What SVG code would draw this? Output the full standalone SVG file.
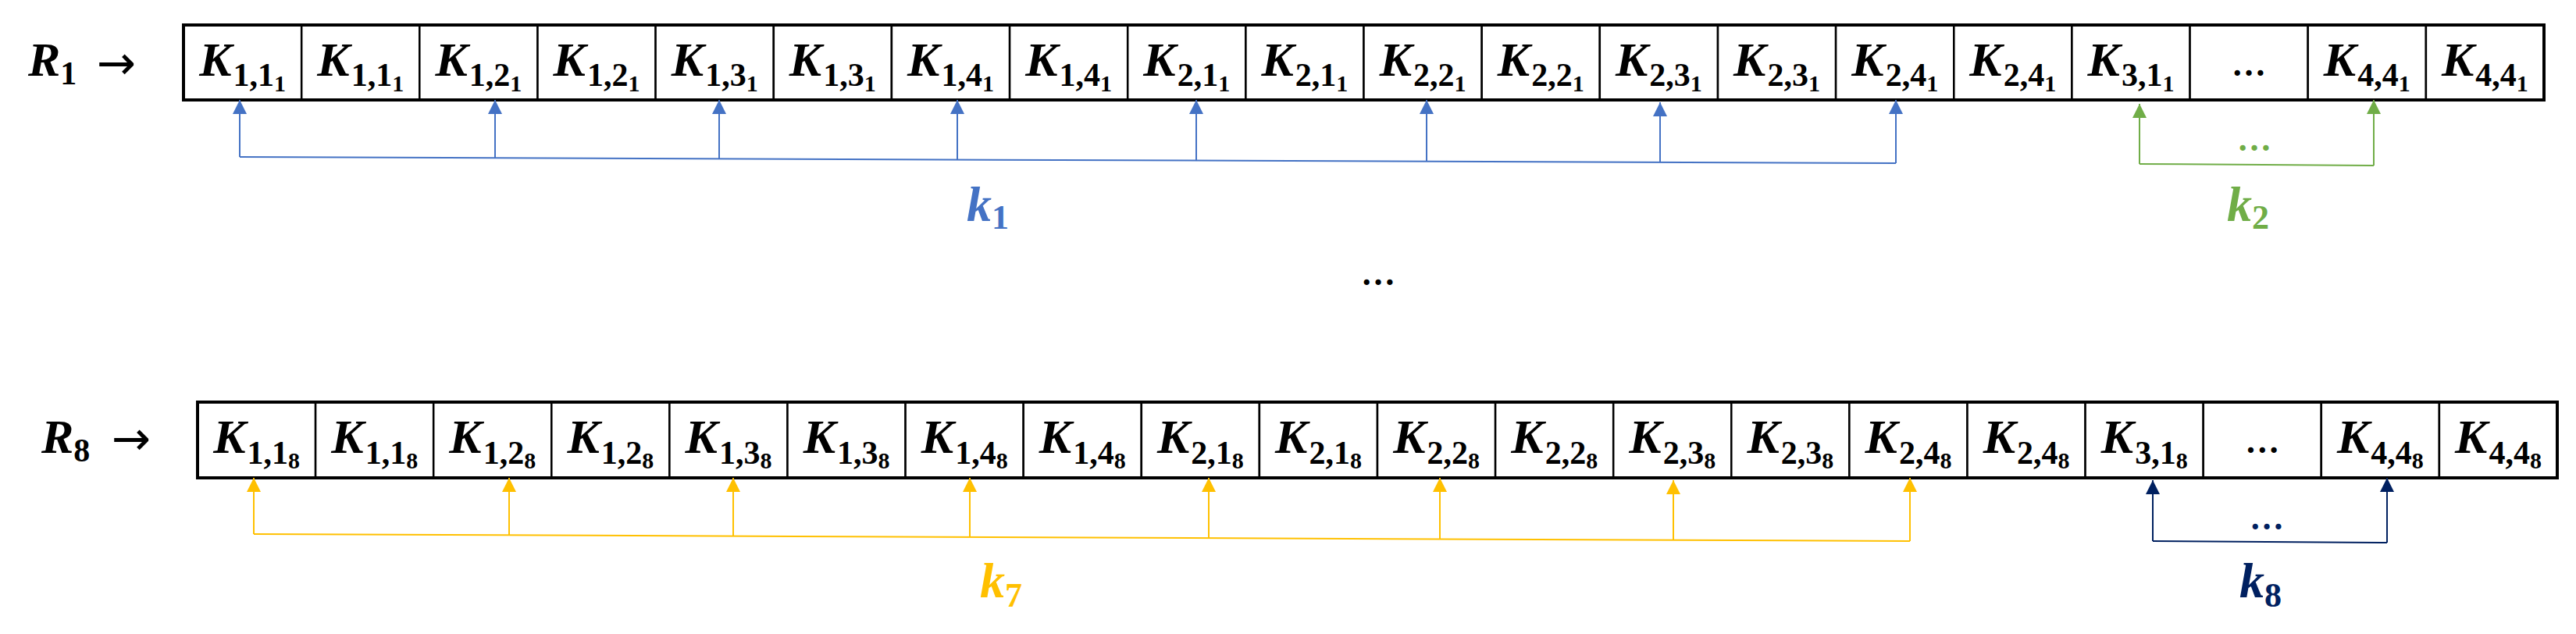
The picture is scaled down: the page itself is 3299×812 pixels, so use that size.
<svg xmlns="http://www.w3.org/2000/svg" width="3299" height="812" viewBox="0 0 3299 812">
<style>
.cell{fill:#fff;stroke:#000;stroke-width:2.5}
.frame{fill:none;stroke:#000;stroke-width:4}
.lbl{font-family:"Liberation Serif","DejaVu Serif",serif;font-weight:bold;font-style:italic;font-size:62px;text-anchor:middle;fill:#000}
.s{font-size:42px;font-style:normal}
.ss{font-size:30px;font-style:normal}
.dots{font-family:"Liberation Serif","DejaVu Serif",serif;font-weight:bold;font-size:44px;text-anchor:middle}
.row{font-family:"Liberation Serif","DejaVu Serif",serif;font-weight:bold;font-style:italic;font-size:62px;fill:#000}
.arr{font-family:"DejaVu Sans",sans-serif;font-size:60px;fill:#000}
.klbl{font-family:"Liberation Serif","DejaVu Serif",serif;font-weight:bold;font-style:italic;font-size:64px}
.ks{font-size:44px;font-style:normal}
.blue{stroke:#4472C4}
.green{stroke:#70AD47}
.yellow{stroke:#FFC000}
.navy{stroke:#002060}
.conn path{fill:none;stroke-width:2}
</style>
<defs>
<marker id="aBlue" markerUnits="userSpaceOnUse" markerWidth="18" markerHeight="18" refX="18" refY="9" orient="auto"><path d="M0,0 L18,9 L0,18 Z" fill="#4472C4"/></marker>
<marker id="aGreen" markerUnits="userSpaceOnUse" markerWidth="18" markerHeight="18" refX="18" refY="9" orient="auto"><path d="M0,0 L18,9 L0,18 Z" fill="#70AD47"/></marker>
<marker id="aYellow" markerUnits="userSpaceOnUse" markerWidth="18" markerHeight="18" refX="18" refY="9" orient="auto"><path d="M0,0 L18,9 L0,18 Z" fill="#FFC000"/></marker>
<marker id="aNavy" markerUnits="userSpaceOnUse" markerWidth="18" markerHeight="18" refX="18" refY="9" orient="auto"><path d="M0,0 L18,9 L0,18 Z" fill="#002060"/></marker>
</defs>
<rect width="3299" height="812" fill="#fff"/>

<g id="label-R1"><text class="row" x="36" y="97">R<tspan class="s" dy="11">1</tspan></text><text class="arr" x="124" y="101">→</text></g>
<g id="label-R8"><text class="row" x="53" y="580">R<tspan class="s" dy="11">8</tspan></text><text class="arr" x="143" y="582">→</text></g>

<g id="row1">
<g id="r1c0"><rect class="cell" x="235" y="32" width="151.2" height="96"/><text class="lbl" x="310.6" y="97">K<tspan class="s" dx="2" dy="13">1,1</tspan><tspan class="ss" dy="7">1</tspan></text></g>
<g id="r1c1"><rect class="cell" x="386.2" y="32" width="151.1" height="96"/><text class="lbl" x="461.7" y="97">K<tspan class="s" dx="2" dy="13">1,1</tspan><tspan class="ss" dy="7">1</tspan></text></g>
<g id="r1c2"><rect class="cell" x="537.3" y="32" width="151.2" height="96"/><text class="lbl" x="612.9" y="97">K<tspan class="s" dx="2" dy="13">1,2</tspan><tspan class="ss" dy="7">1</tspan></text></g>
<g id="r1c3"><rect class="cell" x="688.5" y="32" width="151.1" height="96"/><text class="lbl" x="764.0" y="97">K<tspan class="s" dx="2" dy="13">1,2</tspan><tspan class="ss" dy="7">1</tspan></text></g>
<g id="r1c4"><rect class="cell" x="839.6" y="32" width="151.2" height="96"/><text class="lbl" x="915.2" y="97">K<tspan class="s" dx="2" dy="13">1,3</tspan><tspan class="ss" dy="7">1</tspan></text></g>
<g id="r1c5"><rect class="cell" x="990.8" y="32" width="151.1" height="96"/><text class="lbl" x="1066.3" y="97">K<tspan class="s" dx="2" dy="13">1,3</tspan><tspan class="ss" dy="7">1</tspan></text></g>
<g id="r1c6"><rect class="cell" x="1141.9" y="32" width="151.2" height="96"/><text class="lbl" x="1217.5" y="97">K<tspan class="s" dx="2" dy="13">1,4</tspan><tspan class="ss" dy="7">1</tspan></text></g>
<g id="r1c7"><rect class="cell" x="1293.1" y="32" width="151.1" height="96"/><text class="lbl" x="1368.6" y="97">K<tspan class="s" dx="2" dy="13">1,4</tspan><tspan class="ss" dy="7">1</tspan></text></g>
<g id="r1c8"><rect class="cell" x="1444.2" y="32" width="151.2" height="96"/><text class="lbl" x="1519.8" y="97">K<tspan class="s" dx="2" dy="13">2,1</tspan><tspan class="ss" dy="7">1</tspan></text></g>
<g id="r1c9"><rect class="cell" x="1595.4" y="32" width="151.1" height="96"/><text class="lbl" x="1670.9" y="97">K<tspan class="s" dx="2" dy="13">2,1</tspan><tspan class="ss" dy="7">1</tspan></text></g>
<g id="r1c10"><rect class="cell" x="1746.5" y="32" width="151.2" height="96"/><text class="lbl" x="1822.1" y="97">K<tspan class="s" dx="2" dy="13">2,2</tspan><tspan class="ss" dy="7">1</tspan></text></g>
<g id="r1c11"><rect class="cell" x="1897.7" y="32" width="151.1" height="96"/><text class="lbl" x="1973.2" y="97">K<tspan class="s" dx="2" dy="13">2,2</tspan><tspan class="ss" dy="7">1</tspan></text></g>
<g id="r1c12"><rect class="cell" x="2048.8" y="32" width="151.2" height="96"/><text class="lbl" x="2124.4" y="97">K<tspan class="s" dx="2" dy="13">2,3</tspan><tspan class="ss" dy="7">1</tspan></text></g>
<g id="r1c13"><rect class="cell" x="2200.0" y="32" width="151.1" height="96"/><text class="lbl" x="2275.5" y="97">K<tspan class="s" dx="2" dy="13">2,3</tspan><tspan class="ss" dy="7">1</tspan></text></g>
<g id="r1c14"><rect class="cell" x="2351.1" y="32" width="151.2" height="96"/><text class="lbl" x="2426.7" y="97">K<tspan class="s" dx="2" dy="13">2,4</tspan><tspan class="ss" dy="7">1</tspan></text></g>
<g id="r1c15"><rect class="cell" x="2502.3" y="32" width="151.1" height="96"/><text class="lbl" x="2577.8" y="97">K<tspan class="s" dx="2" dy="13">2,4</tspan><tspan class="ss" dy="7">1</tspan></text></g>
<g id="r1c16"><rect class="cell" x="2653.4" y="32" width="151.2" height="96"/><text class="lbl" x="2729.0" y="97">K<tspan class="s" dx="2" dy="13">3,1</tspan><tspan class="ss" dy="7">1</tspan></text></g>
<g id="r1c17"><rect class="cell" x="2804.6" y="32" width="151.1" height="96"/><text class="dots" x="2880.1" y="97">…</text></g>
<g id="r1c18"><rect class="cell" x="2955.7" y="32" width="151.2" height="96"/><text class="lbl" x="3031.3" y="97">K<tspan class="s" dx="2" dy="13">4,4</tspan><tspan class="ss" dy="7">1</tspan></text></g>
<g id="r1c19"><rect class="cell" x="3106.9" y="32" width="151.1" height="96"/><text class="lbl" x="3182.4" y="97">K<tspan class="s" dx="2" dy="13">4,4</tspan><tspan class="ss" dy="7">1</tspan></text></g>
<rect class="frame" x="235" y="32" width="3023" height="96"/>
</g>

<g id="row8">
<g id="r8c0"><rect class="cell" x="253" y="515" width="151.1" height="97"/><text class="lbl" x="328.6" y="580">K<tspan class="s" dx="2" dy="14">1,1</tspan><tspan class="ss" dy="6">8</tspan></text></g>
<g id="r8c1"><rect class="cell" x="404.1" y="515" width="151.1" height="97"/><text class="lbl" x="479.7" y="580">K<tspan class="s" dx="2" dy="14">1,1</tspan><tspan class="ss" dy="6">8</tspan></text></g>
<g id="r8c2"><rect class="cell" x="555.2" y="515" width="151.1" height="97"/><text class="lbl" x="630.8" y="580">K<tspan class="s" dx="2" dy="14">1,2</tspan><tspan class="ss" dy="6">8</tspan></text></g>
<g id="r8c3"><rect class="cell" x="706.3" y="515" width="151.1" height="97"/><text class="lbl" x="781.9" y="580">K<tspan class="s" dx="2" dy="14">1,2</tspan><tspan class="ss" dy="6">8</tspan></text></g>
<g id="r8c4"><rect class="cell" x="857.4" y="515" width="151.1" height="97"/><text class="lbl" x="933.0" y="580">K<tspan class="s" dx="2" dy="14">1,3</tspan><tspan class="ss" dy="6">8</tspan></text></g>
<g id="r8c5"><rect class="cell" x="1008.5" y="515" width="151.1" height="97"/><text class="lbl" x="1084.1" y="580">K<tspan class="s" dx="2" dy="14">1,3</tspan><tspan class="ss" dy="6">8</tspan></text></g>
<g id="r8c6"><rect class="cell" x="1159.6" y="515" width="151.1" height="97"/><text class="lbl" x="1235.2" y="580">K<tspan class="s" dx="2" dy="14">1,4</tspan><tspan class="ss" dy="6">8</tspan></text></g>
<g id="r8c7"><rect class="cell" x="1310.7" y="515" width="151.1" height="97"/><text class="lbl" x="1386.3" y="580">K<tspan class="s" dx="2" dy="14">1,4</tspan><tspan class="ss" dy="6">8</tspan></text></g>
<g id="r8c8"><rect class="cell" x="1461.8" y="515" width="151.1" height="97"/><text class="lbl" x="1537.4" y="580">K<tspan class="s" dx="2" dy="14">2,1</tspan><tspan class="ss" dy="6">8</tspan></text></g>
<g id="r8c9"><rect class="cell" x="1612.9" y="515" width="151.1" height="97"/><text class="lbl" x="1688.5" y="580">K<tspan class="s" dx="2" dy="14">2,1</tspan><tspan class="ss" dy="6">8</tspan></text></g>
<g id="r8c10"><rect class="cell" x="1764.0" y="515" width="151.1" height="97"/><text class="lbl" x="1839.6" y="580">K<tspan class="s" dx="2" dy="14">2,2</tspan><tspan class="ss" dy="6">8</tspan></text></g>
<g id="r8c11"><rect class="cell" x="1915.1" y="515" width="151.1" height="97"/><text class="lbl" x="1990.7" y="580">K<tspan class="s" dx="2" dy="14">2,2</tspan><tspan class="ss" dy="6">8</tspan></text></g>
<g id="r8c12"><rect class="cell" x="2066.2" y="515" width="151.1" height="97"/><text class="lbl" x="2141.8" y="580">K<tspan class="s" dx="2" dy="14">2,3</tspan><tspan class="ss" dy="6">8</tspan></text></g>
<g id="r8c13"><rect class="cell" x="2217.3" y="515" width="151.1" height="97"/><text class="lbl" x="2292.9" y="580">K<tspan class="s" dx="2" dy="14">2,3</tspan><tspan class="ss" dy="6">8</tspan></text></g>
<g id="r8c14"><rect class="cell" x="2368.4" y="515" width="151.1" height="97"/><text class="lbl" x="2444.0" y="580">K<tspan class="s" dx="2" dy="14">2,4</tspan><tspan class="ss" dy="6">8</tspan></text></g>
<g id="r8c15"><rect class="cell" x="2519.5" y="515" width="151.1" height="97"/><text class="lbl" x="2595.1" y="580">K<tspan class="s" dx="2" dy="14">2,4</tspan><tspan class="ss" dy="6">8</tspan></text></g>
<g id="r8c16"><rect class="cell" x="2670.6" y="515" width="151.1" height="97"/><text class="lbl" x="2746.2" y="580">K<tspan class="s" dx="2" dy="14">3,1</tspan><tspan class="ss" dy="6">8</tspan></text></g>
<g id="r8c17"><rect class="cell" x="2821.7" y="515" width="151.1" height="97"/><text class="dots" x="2897.3" y="580">…</text></g>
<g id="r8c18"><rect class="cell" x="2972.8" y="515" width="151.1" height="97"/><text class="lbl" x="3048.4" y="580">K<tspan class="s" dx="2" dy="14">4,4</tspan><tspan class="ss" dy="6">8</tspan></text></g>
<g id="r8c19"><rect class="cell" x="3123.9" y="515" width="151.1" height="97"/><text class="lbl" x="3199.5" y="580">K<tspan class="s" dx="2" dy="14">4,4</tspan><tspan class="ss" dy="6">8</tspan></text></g>
<rect class="frame" x="253" y="515" width="3022" height="97"/>
</g>

<g id="connectors" class="conn">
<g id="k1-conn">
<path class="blue" d="M307,201 L2428,209"/>
<path class="blue" d="M307,201 L307,128" marker-end="url(#aBlue)"/>
<path class="blue" d="M634,202.2 L634,128" marker-end="url(#aBlue)"/>
<path class="blue" d="M921,203.3 L921,128" marker-end="url(#aBlue)"/>
<path class="blue" d="M1226,204.5 L1226,128" marker-end="url(#aBlue)"/>
<path class="blue" d="M1532,205.6 L1532,128" marker-end="url(#aBlue)"/>
<path class="blue" d="M1827,206.7 L1827,128" marker-end="url(#aBlue)"/>
<path class="blue" d="M2126,207.9 L2126,131" marker-end="url(#aBlue)"/>
<path class="blue" d="M2428,209 L2428,128" marker-end="url(#aBlue)"/>
</g>
<g id="k2-conn">
<path class="green" d="M2740,210 L3040,212"/>
<path class="green" d="M2740,210 L2740,133" marker-end="url(#aGreen)"/>
<path class="green" d="M3040,212 L3040,128" marker-end="url(#aGreen)"/>
</g>
<g id="k7-conn">
<path class="yellow" d="M325,684 L2446,693"/>
<path class="yellow" d="M325,684 L325,612" marker-end="url(#aYellow)"/>
<path class="yellow" d="M652,685.4 L652,612" marker-end="url(#aYellow)"/>
<path class="yellow" d="M939,686.6 L939,612" marker-end="url(#aYellow)"/>
<path class="yellow" d="M1242,687.9 L1242,612" marker-end="url(#aYellow)"/>
<path class="yellow" d="M1548,689.2 L1548,612" marker-end="url(#aYellow)"/>
<path class="yellow" d="M1844,690.4 L1844,612" marker-end="url(#aYellow)"/>
<path class="yellow" d="M2143,691.7 L2143,615" marker-end="url(#aYellow)"/>
<path class="yellow" d="M2446,693 L2446,612" marker-end="url(#aYellow)"/>
</g>
<g id="k8-conn">
<path class="navy" d="M2757,693 L3057,695"/>
<path class="navy" d="M2757,693 L2757,615" marker-end="url(#aNavy)"/>
<path class="navy" d="M3057,695 L3057,612" marker-end="url(#aNavy)"/>
</g>
</g>

<g id="k-labels">
<text id="k1" class="klbl" x="1238" y="283" fill="#4472C4">k<tspan class="ks" dy="10">1</tspan></text>
<text id="k2" class="klbl" x="2852" y="283" fill="#70AD47">k<tspan class="ks" dy="10">2</tspan></text>
<text id="k7" class="klbl" x="1255" y="765" fill="#FFC000">k<tspan class="ks" dy="12">7</tspan></text>
<text id="k8" class="klbl" x="2868" y="765" fill="#002060">k<tspan class="ks" dy="12">8</tspan></text>
<text class="dots" x="2887" y="193" fill="#70AD47">…</text>
<text class="dots" x="2903" y="678" fill="#002060">…</text>
<text class="dots" x="1765" y="365" fill="#000">…</text>
</g>
</svg>
